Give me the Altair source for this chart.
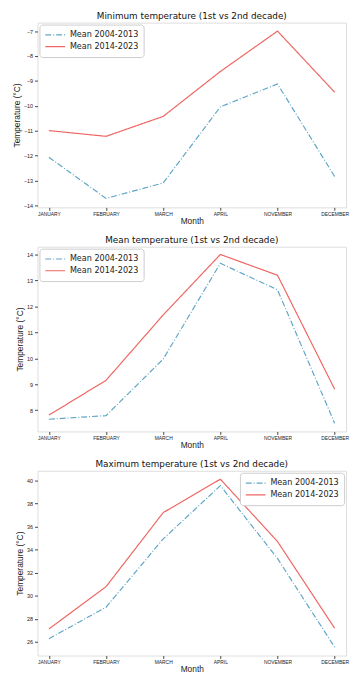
import altair as alt
import pandas as pd

months = ["JANUARY", "FEBRUARY", "MARCH", "APRIL", "NOVEMBER", "DECEMBER"]
series = ["Mean 2004-2013", "Mean 2014-2023"]

min_first = [-12.06, -13.71, -13.09, -10.04, -9.12, -12.83]
min_second = [-10.99, -11.22, -10.42, -8.62, -7.0, -9.45]
mean_first = [7.65, 7.79, 9.97, 13.66, 12.64, 7.5]
mean_second = [7.81, 9.15, 11.67, 14.0, 13.2, 8.81]
max_first = [26.28, 29.0, 34.91, 39.52, 33.22, 25.55]
max_second = [27.12, 30.78, 37.19, 40.08, 34.69, 27.18]

min_ticks = [-14, -13, -12, -11, -10, -9, -8, -7]
mean_ticks = [8, 9, 10, 11, 12, 13, 14]
max_ticks = [26, 28, 30, 32, 34, 36, 38, 40]

FONT = "DejaVu Sans"
BLUE = "#5fa6c6"
RED = "#ee6662"


def frame(first, second):
    rows = []
    for m, a, b in zip(months, first, second):
        rows.append({"Month": m, "series": series[0], "value": a})
        rows.append({"Month": m, "series": series[1], "value": b})
    return pd.DataFrame(rows)


def panel(title, first, second, domain, ticks, legend_orient):
    df = frame(first, second)
    return alt.Chart(df).mark_line(strokeWidth=1.2).encode(
        x=alt.X("Month:N", sort=months,
                scale=alt.Scale(type="point", padding=0.2),
                axis=alt.Axis(title="Month", labelAngle=0, labelFontSize=5,
                              tickSize=3, labelPadding=1, titleFontSize=8.5,
                              titleFontWeight="normal", titlePadding=0,
                              domain=False, grid=False,
                              labelColor="#222", tickColor="#444", titleColor="#222")),
        y=alt.Y("value:Q", scale=alt.Scale(domain=domain, nice=False, zero=False),
                axis=alt.Axis(title="Temperature (°C)", values=ticks, format="d",
                              labelExpr="replace(datum.label, '-', '−')",
                              labelFontSize=5.5, tickSize=3, labelPadding=2,
                              titleFontSize=8.5, titleFontWeight="normal",
                              titlePadding=2, domain=False, titleColor="#222",
                              grid=False, labelColor="#222", tickColor="#444")),
        color=alt.Color("series:N", scale=alt.Scale(domain=series, range=[BLUE, RED]),
                        legend=alt.Legend(title=None, orient=legend_orient, offset=2,
                                          symbolType="stroke", symbolSize=400,
                                          symbolStrokeWidth=1.2, clipHeight=11,
                                          rowPadding=1, labelFontSize=8.2,
                                          labelFont=FONT, padding=5,
                                          strokeColor="#cccccc", cornerRadius=3,
                                          fillColor="white", labelColor="#222")),
        strokeDash=alt.StrokeDash("series:N",
                                  scale=alt.Scale(domain=series, range=[[6, 2, 1, 2], [1, 0]]),
                                  legend=alt.Legend(title=None, orient=legend_orient)),
    ).properties(
        width=314, height=188,
        title=alt.TitleParams(title, fontSize=9, fontWeight="normal", font=FONT,
                              color="#111", offset=2),
    )


p1 = panel("Minimum temperature (1st vs 2nd decade)", min_first, min_second,
           [-14.07, -6.66], min_ticks, "top-left")
p2 = panel("Mean temperature (1st vs 2nd decade)", mean_first, mean_second,
           [7.18, 14.3], mean_ticks, "top-left")
p3 = panel("Maximum temperature (1st vs 2nd decade)", max_first, max_second,
           [24.82, 40.81], max_ticks, "top-right")

chart = alt.vconcat(p1, p2, p3, spacing=10).properties(
    padding={"left": 4, "top": -3, "right": 0, "bottom": 0}
).configure_view(stroke="#555", strokeWidth=0.8).configure_axis(
    labelFont=FONT, titleFont=FONT
).configure(background="white")

chart.save("out.html", embed_options={"renderer": "svg", "actions": False})
